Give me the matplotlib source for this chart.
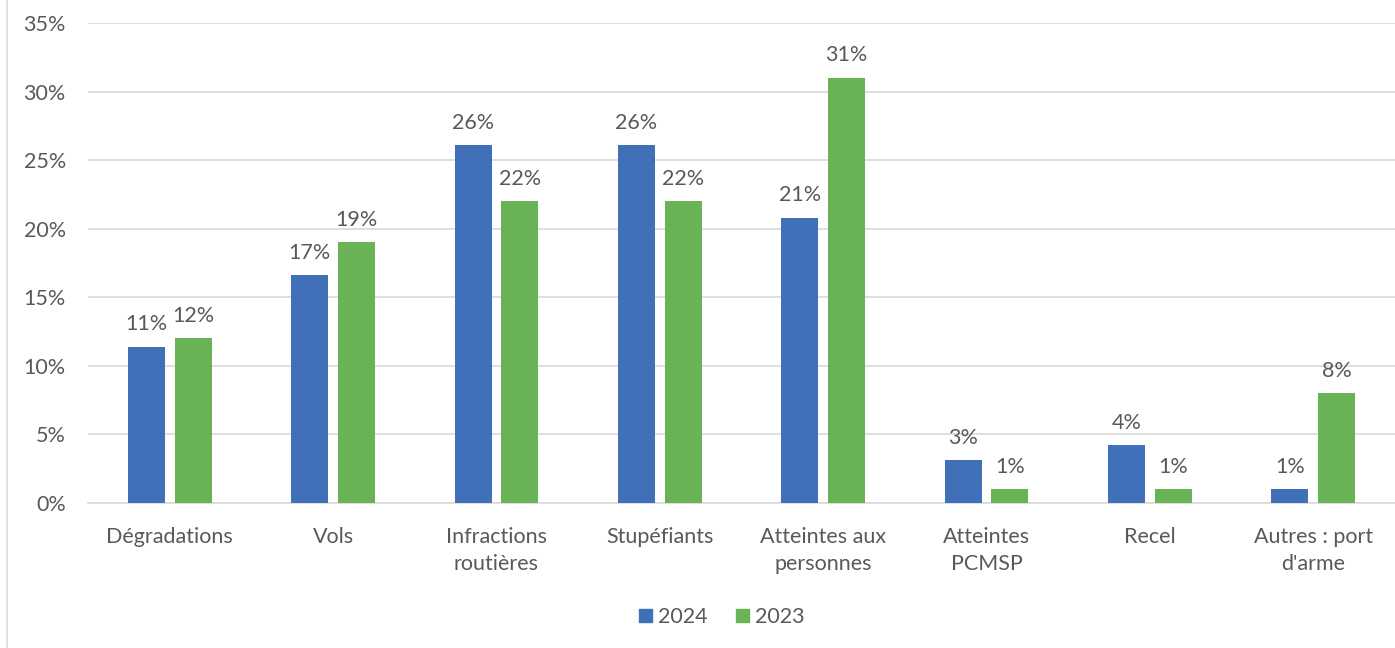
import matplotlib
matplotlib.use("Agg")
import matplotlib.pyplot as plt
from matplotlib.lines import Line2D
from matplotlib.patches import Patch
import numpy as np

categories = ["Dégradations", "Vols", "Infractions\nroutières", "Stupéfiants",
              "Atteintes aux\npersonnes", "Atteintes\nPCMSP", "Recel", "Autres : port\nd'arme"]
values_2024 = [11.4, 16.6, 26.1, 26.1, 20.8, 3.1, 4.2, 1.0]
values_2023 = [12.0, 19.0, 22.0, 22.0, 31.0, 1.0, 1.0, 8.0]
yticks = [0, 5, 10, 15, 20, 25, 30, 35]

blue = "#4070B8"
green = "#6AB256"
text_col = "#595959"
grid_col = "#D9D9D9"

plt.rcParams['font.family'] = ['Lato', 'DejaVu Sans']
fs = 15.5

fig = plt.figure(figsize=(13.95, 6.48), dpi=100)
ax = fig.add_axes([88/1395, 1-503/648, 1-88/1395, (503-23)/648])

x = np.arange(len(categories))
w = 0.226
off = 0.143
b1 = ax.bar(x - off, values_2024, w, color=blue, zorder=3)
b2 = ax.bar(x + off, values_2023, w, color=green, zorder=3)

for bars, vals in ((b1, values_2024), (b2, values_2023)):
    for r, v in zip(bars, vals):
        ax.annotate(f"{round(v):d}%", (r.get_x() + r.get_width()/2, v),
                    xytext=(0, 9), textcoords="offset points",
                    ha="center", va="bottom", fontsize=fs, color=text_col)

ax.set_xlim(-0.5, len(categories) - 0.5)
ax.set_ylim(0, 35)
ax.set_yticks(yticks)
ax.set_yticklabels([f"{t}%" for t in yticks])
ax.set_xticks(x)
ax.set_xticklabels(categories, linespacing=1.45)
ax.tick_params(axis='both', length=0, labelsize=fs, labelcolor=text_col)
ax.tick_params(axis='x', pad=17)
ax.tick_params(axis='y', pad=16)
ax.grid(axis='y', color=grid_col, lw=1.2, zorder=0)
for s in ["left", "right", "top"]:
    ax.spines[s].set_visible(False)
ax.spines["bottom"].set_color(grid_col)
ax.spines["bottom"].set_linewidth(1.2)

fig.add_artist(Line2D([7/1395, 7/1395], [0, 1], color=grid_col, lw=1.2,
                      transform=fig.transFigure))

handles = [Patch(color=blue, label="2024"), Patch(color=green, label="2023")]
fig.legend(handles=handles, loc="center", bbox_to_anchor=(722/1395, 1-617/648),
           ncol=2, frameon=False, fontsize=fs, labelcolor=text_col,
           handlelength=0.6, handleheight=0.6, handletextpad=0.3, columnspacing=1.3)

fig.savefig("out.png", dpi=100)
